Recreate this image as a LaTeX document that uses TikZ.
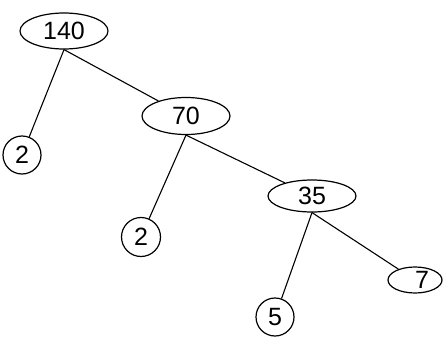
\documentclass[tikz,border=0pt]{standalone}
\usepackage{fontspec}
\setmainfont{Liberation Sans}
\usetikzlibrary{shapes.geometric}
\begin{document}
\begin{tikzpicture}[x=1pt,y=-1pt,
  every node/.style={font=\fontsize{25}{25}\selectfont, inner sep=0pt},
  oval/.style={draw, ellipse, line width=1.2pt},
  leaf/.style={draw, circle, line width=1.2pt},
  branch/.style={line width=1.1pt}]
\useasboundingbox (0,0) rectangle (444,337);
% composite factors
\node[oval, minimum width=88, minimum height=36] (n140) at (64,31) {140};
\node[oval, minimum width=88, minimum height=37] (n70) at (186,116) {70};
\node[oval, minimum width=88, minimum height=32] (n35) at (312,196) {35};
% prime factors
\node[leaf, minimum size=38] (p2a) at (22,155) {2};
\node[leaf, minimum size=39] (p2b) at (141,237) {2};
\node[leaf, minimum size=38] (p5) at (275,317) {5};
\node[oval, minimum width=54, minimum height=26] (p7) at (415,280) {\hspace{14pt}7};
% branches
\draw[branch] (n140.south) -- (p2a);
\draw[branch] (n140.south) -- (n70);
\draw[branch] (n70.south) -- (p2b);
\draw[branch] (n70.south) -- (n35);
\draw[branch] (n35.south) -- (p5);
\draw[branch] (n35.south) -- (p7);
\end{tikzpicture}
\end{document}
